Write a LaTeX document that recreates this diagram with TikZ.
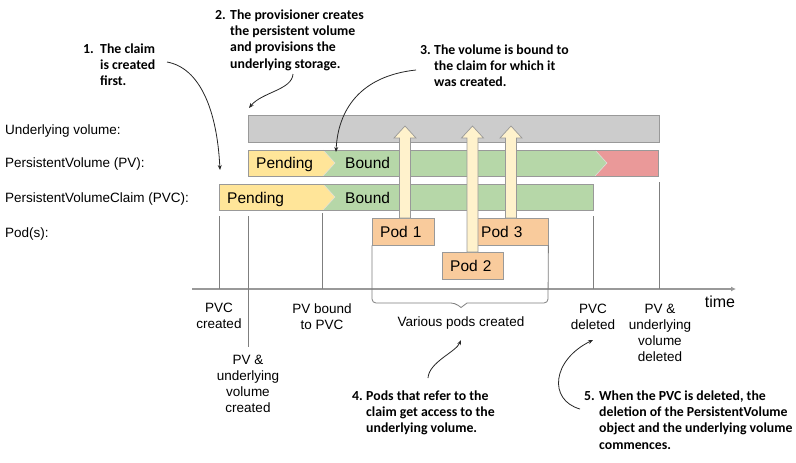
\documentclass[tikz,border=0pt]{standalone}
\usepackage{fontspec}
\setmainfont{Liberation Sans}
\newfontfamily\notefont{Carlito}
\usetikzlibrary{arrows.meta}

\definecolor{barGray}{HTML}{CCCCCC}
\definecolor{edgeGray}{HTML}{999999}
\definecolor{pendY}{HTML}{FFE599}
\definecolor{boundG}{HTML}{B6D7A8}
\definecolor{delR}{HTML}{EA9999}
\definecolor{podO}{HTML}{F9CB9C}
\definecolor{blkA}{HTML}{FFF2CC}
\definecolor{lineG}{HTML}{7F7F7F}

\newcommand\mylines[1]{\begin{tabular}[t]{@{}c@{}}#1\end{tabular}}
\newcommand\blockup[3]{%
  \draw[blk] (#1-5.5,#2) -- (#1-5.5,#3+12) -- (#1-11,#3+12) -- (#1,#3) --
    (#1+11,#3+12) -- (#1+5.5,#3+12) -- (#1+5.5,#2) -- cycle;}

\begin{document}
\begin{tikzpicture}[x=1pt,y=-1pt,
  lbl/.style={font=\fontsize{13.5}{16}\selectfont, inner sep=0pt},
  barTxt/.style={font=\fontsize{15.5}{18}\selectfont, inner sep=0pt, anchor=base west},
  note/.style={font=\notefont\bfseries\fontsize{13.8}{16.2}\selectfont, inner sep=0pt, anchor=base west},
  pod/.style={draw=edgeGray, fill=podO, font=\fontsize{15.5}{18}\selectfont,
    inner xsep=8pt, inner ysep=0pt, minimum height=27pt, align=left, anchor=north west},
  vline/.style={draw=lineG, line width=0.8pt},
  blk/.style={draw=edgeGray, fill=blkA, line width=0.7pt},
  callout/.style={draw=black!85, line width=0.8pt, -{Stealth[length=5pt,width=4pt]}},
  chev/.style={draw=white!70!edgeGray, line width=0.5pt}
]
\fill[white] (0,0) rectangle (796,463);
\useasboundingbox (0,0) rectangle (796,463);

% underlying volume bar
\fill[barGray] (248,115) rectangle (659,142);
\draw[edgeGray, line width=0.8pt] (248,115) rectangle (659,142);

% PV bar
\fill[delR] (595,150) rectangle (658,176);
\fill[boundG] (248,150) -- (595,150) -- (607,163) -- (595,176) -- (248,176) -- cycle;
\fill[pendY] (248,150) -- (323,150) -- (335,163) -- (323,176) -- (248,176) -- cycle;
\draw[chev] (323,150) -- (335,163) -- (323,176);
\draw[chev] (595,150) -- (607,163) -- (595,176);
\draw[edgeGray, line width=0.8pt] (248,150) rectangle (658,176);

% PVC bar
\fill[boundG] (219,184) rectangle (593,210);
\fill[pendY] (219,184) -- (323,184) -- (335,197) -- (323,210) -- (219,210) -- cycle;
\draw[chev] (323,184) -- (335,197) -- (323,210);
\draw[edgeGray, line width=0.8pt] (219,184) rectangle (593,210);

% bar texts
\node[barTxt] (pvPend) at (256,168.5) {Pending};
\node[barTxt] (pvBound) at (345,168.5) {Bound};
\node[barTxt] (pvcPend) at (227,203) {Pending};
\node[barTxt] (pvcBound) at (345,203) {Bound};

% row labels
\node[lbl, anchor=base west] (rowUV) at (5,134.8) {Underlying volume:};
\node[lbl, anchor=base west] (rowPV) at (5,167.8) {PersistentVolume (PV):};
\node[lbl, anchor=base west] (rowPVC) at (5,202.5) {PersistentVolumeClaim (PVC):};
\node[lbl, anchor=base west] (rowPod) at (5,237.5) {Pod(s):};

% time axis
\coordinate (ax0) at (192,289);
\coordinate (ax1) at (736,289);
\draw[draw=edgeGray, line width=1.6pt, -{Latex[length=5pt,width=5pt]}] (ax0) -- (ax1);

% vertical event lines
\draw[vline] (219,216) -- (219,289);
\draw[vline] (248,216) -- (248,347);
\draw[vline] (322,213) -- (322,289);
\draw[vline] (593,216) -- (593,289);
\draw[vline] (659,182) -- (659,289);

% pods
\node[pod, text width=46pt] (pod1) at (372,218) {Pod 1};
\node[pod, text width=45pt] (pod2) at (442,252) {Pod 2};
\node[pod, text width=59pt] (pod3) at (473,218) {Pod 3};

% brace
\draw[vline, rounded corners=4pt] (pod1.south west) -- (372,303) -- (455,303)
  [sharp corners] -- (461,307.5) -- (467,303) [rounded corners=4pt] -- (548,303) -- (pod3.south east);

% block arrows
\blockup{405}{218}{126}
\blockup{472.5}{252}{126}
\blockup{511}{218}{126}

% bottom labels
\node[lbl, anchor=base] (pvcC) at (219,312) {\mylines{PVC\\created}};
\node[lbl, anchor=base] (pvC) at (248,364.5) {\mylines{PV \&\\underlying\\volume\\created}};
\node[lbl, anchor=base] (pvB) at (322,313) {\mylines{PV bound\\to PVC}};
\node[lbl, anchor=base] (various) at (461,326) {Various pods created};
\node[lbl, anchor=base] (pvcD) at (593,313.5) {\mylines{PVC\\deleted}};
\node[lbl, anchor=base] (pvD) at (660,313.5) {\mylines{PV \&\\underlying\\volume\\deleted}};
\node[font=\fontsize{16}{19}\selectfont, inner sep=0pt, anchor=base] (time) at (720,307.5) {time};

% annotations
\node[note] (n1) at (83,53.5) {\begin{tabular}[t]{@{}l@{}l@{}}\makebox[17pt][l]{1.}&The claim\\&is created\\&first.\end{tabular}};
\node[note] (n2) at (215,19.5) {\begin{tabular}[t]{@{}l@{}l@{}}\makebox[15pt][l]{2.}&The provisioner creates\\&the persistent volume\\&and provisions the\\&underlying storage.\end{tabular}};
\node[note] (n3) at (420,54.5) {\begin{tabular}[t]{@{}l@{}l@{}}\makebox[14pt][l]{3.}&The volume is bound to\\&the claim for which it\\&was created.\end{tabular}};
\node[note] (n4) at (352,400.5) {\begin{tabular}[t]{@{}l@{}l@{}}\makebox[14pt][l]{4.}&Pods that refer to the\\&claim get access to the\\&underlying volume.\end{tabular}};
\node[note] (n5) at (584,400.5) {\begin{tabular}[t]{@{}l@{}l@{}}\makebox[15pt][l]{5.}&When the PVC is deleted, the\\&deletion of the PersistentVolume\\&object and the underlying volume\\&commences.\end{tabular}};

% callout arrows
\coordinate (c1s) at (167,62);   \coordinate (c1e) at (220,170);
\coordinate (c2s) at (293,74);   \coordinate (c2e) at (249,108);
\coordinate (c3s) at (416,70);   \coordinate (c3e) at (336,152);
\coordinate (c4s) at (428,378);  \coordinate (c4e) at (461,340);
\coordinate (c5s) at (580,409);  \coordinate (c5e) at (593,340);
\draw[callout] (c1s) .. controls (200,68) and (217,110) .. (c1e);
\draw[callout] (c2s) .. controls (292,90) and (262,92) .. (c2e);
\draw[callout] (c3s) .. controls (360,76) and (338,110) .. (c3e);
\draw[callout] (c4s) .. controls (429,362) and (456,352) .. (c4e);
\draw[callout] (c5s) .. controls (548,400) and (552,360) .. (c5e);
\end{tikzpicture}
\end{document}
